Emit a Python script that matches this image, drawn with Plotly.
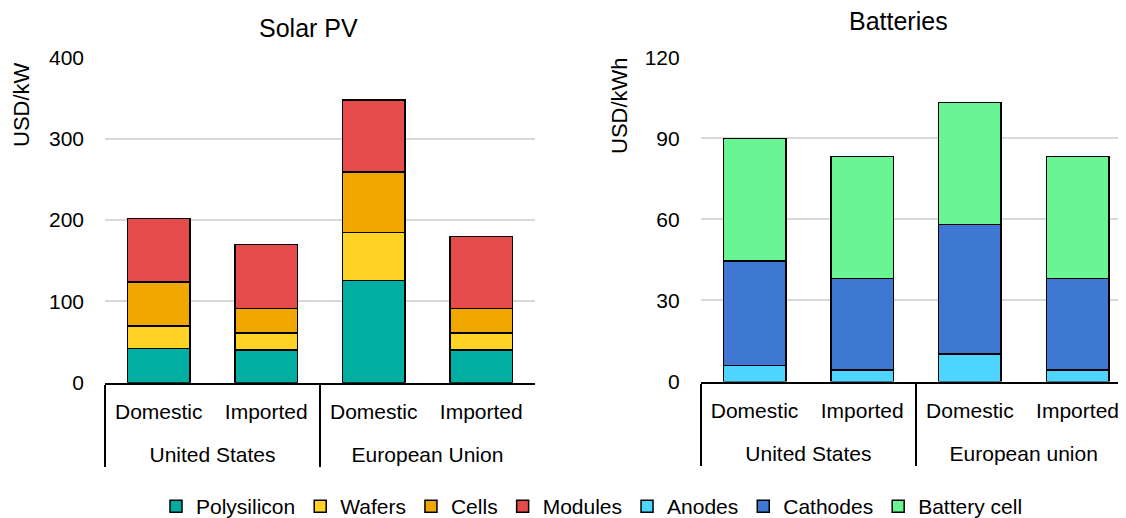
import plotly.graph_objects as go

# ---- data ----
regions_pv = ["United States", "United States", "European Union", "European Union"]
regions_bat = ["United States", "United States", "European union", "European union"]
origin = ["Domestic", "Imported", "Domestic", "Imported"]

polysilicon = [42, 40, 126, 40]
wafers = [28, 21, 59, 21]
cells = [54, 30, 74, 30]
modules = [78, 79, 89, 89]

anodes = [6.0, 4.3, 10.2, 4.3]
cathodes = [38.6, 33.8, 47.9, 33.8]
battery_cell = [45.4, 45.2, 45.2, 45.2]

pv_ticks = [0, 100, 200, 300, 400]
bat_ticks = [0, 30, 60, 90, 120]

FONT = "Liberation Sans, Arial, sans-serif"
line = dict(color="black", width=1.5)

# page body has an 8px margin; figure size/positions compensate for it
OFF = 8
W, H = 1126 - OFF, 518 - OFF


def px(x):
    return (x - OFF) / W


def py(y):
    return 1 - (y - OFF) / H


# blank first line pushes the outer category row down, as in the reference
pv_outer = ["<br>" + r for r in regions_pv]
bat_outer = ["<br>" + r for r in regions_bat]

fig = go.Figure()
pv_series = [("Polysilicon", polysilicon, "#00AEA2"), ("Wafers", wafers, "#FFD324"),
             ("Cells", cells, "#F0A800"), ("Modules", modules, "#E54B4B")]
for name, vals, col in pv_series:
    fig.add_trace(go.Bar(x=[pv_outer, origin], y=vals, name=name,
                         marker=dict(color=col, line=line), xaxis="x", yaxis="y"))
bat_series = [("Anodes", anodes, "#4DD5FF"), ("Cathodes", cathodes, "#3F78D3"),
              ("Battery cell", battery_cell, "#69F594")]
for name, vals, col in bat_series:
    fig.add_trace(go.Bar(x=[bat_outer, origin], y=vals, name=name,
                         marker=dict(color=col, line=line), xaxis="x2", yaxis="y2"))

xcommon = dict(type="multicategory", showline=True, linecolor="black", linewidth=2,
               ticks="", tickfont=dict(size=21, color="black"), showdividers=True,
               dividercolor="black", dividerwidth=1.5, showgrid=False, automargin=False,
               ticklabelstandoff=9)
ycommon = dict(showline=False, zeroline=False, gridcolor="#D9D9D9", gridwidth=1.5,
               tickfont=dict(size=21, color="black"), ticks="", ticklabelstandoff=20,
               automargin=False)

fig.update_layout(
    width=W, height=H,
    margin=dict(l=0, r=0, t=0, b=0, autoexpand=False),
    paper_bgcolor="white", plot_bgcolor="white",
    font=dict(family=FONT, color="black", size=21),
    barmode="stack", bargap=0.42,
    xaxis=dict(domain=[px(105), px(535)], anchor="y", **xcommon),
    yaxis=dict(domain=[py(382.7), py(57.5)], range=[0, 400], tickvals=pv_ticks,
               anchor="x", **ycommon),
    xaxis2=dict(domain=[px(700.7), 1.0], anchor="y2", range=[-0.5, 3.45], **xcommon),
    yaxis2=dict(domain=[py(381.5), py(57.3)], range=[0, 120], tickvals=bat_ticks,
                anchor="x2", **ycommon),
    legend=dict(orientation="h", x=px(592), xanchor="center", y=-9 / H, yanchor="bottom",
                font=dict(size=21), traceorder="normal", itemwidth=30,
                bgcolor="rgba(0,0,0,0)"),
    annotations=[
        dict(text="Solar PV", x=px(308), y=py(28), xref="paper", yref="paper",
             showarrow=False, font=dict(size=25), xanchor="center", yanchor="middle"),
        dict(text="Batteries", x=px(898), y=py(21), xref="paper", yref="paper",
             showarrow=False, font=dict(size=25), xanchor="center", yanchor="middle"),
        dict(text="USD/kW", x=px(21), y=py(105), xref="paper", yref="paper",
             showarrow=False, font=dict(size=22), textangle=-90,
             xanchor="center", yanchor="middle"),
        dict(text="USD/kWh", x=px(620), y=py(106), xref="paper", yref="paper",
             showarrow=False, font=dict(size=22), textangle=-90,
             xanchor="center", yanchor="middle"),
    ],
)

fig.write_html("out.html")
